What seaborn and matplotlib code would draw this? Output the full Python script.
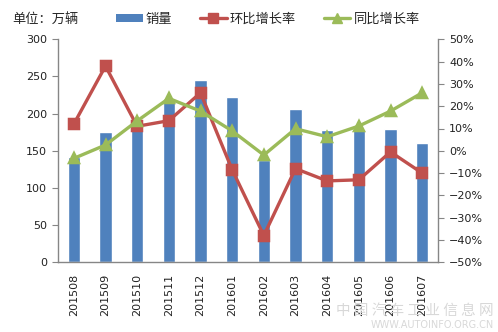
import numpy as np
import pandas as pd
import matplotlib
matplotlib.use("Agg")
import matplotlib.pyplot as plt
from matplotlib.patches import Patch
from matplotlib.lines import Line2D
from matplotlib.ticker import FixedLocator, PercentFormatter
import seaborn as sns

months = ["201508", "201509", "201510", "201511", "201512", "201601",
          "201602", "201603", "201604", "201605", "201606", "201607"]
sales = [142, 175, 192, 219, 245, 223, 138, 206, 178, 178, 179, 160]
mom = [12, 38, 11, 13.5, 26, -8.5, -38, -8, -13.5, -13, -0.5, -10]
yoy = [-3.4, 2.6, 13.4, 23.5, 17.8, 8.9, -1.9, 9.9, 6.3, 11.1, 17.8, 26]
legend_labels = ["销量", "环比增长率", "同比增长率"]
unit_label = "单位：万辆"

BLUE = "#4F81BD"
RED = "#C0504D"
GREEN = "#9BBB59"
SPINE = "#868686"

sns.set_style("white")
plt.rcParams["font.family"] = ["Noto Sans CJK SC", "DejaVu Sans"]
NUMFONT = ["DejaVu Sans", "Noto Sans CJK SC"]

df = pd.DataFrame({"month": months, "sales": sales, "mom": mom, "yoy": yoy})

fig = plt.figure(figsize=(4.98, 3.32), dpi=100)
ax = fig.add_axes([58 / 498, 1 - 262.3 / 332, 380 / 498, 223 / 332])

sns.barplot(data=df, x="month", y="sales", color=BLUE, width=0.38,
            saturation=1, ax=ax, order=months)
ax.set_ylim(0, 300)
ax.set_yticks(np.arange(0, 301, 50))
ax.set_xlim(-0.5, len(months) - 0.5)
ax.set_xlabel("")
ax.set_ylabel("")

ax2 = ax.twinx()
sns.pointplot(data=df, x="month", y="mom", color=RED, markers="s",
              markersize=7.5, linewidth=2.4, ax=ax2, order=months)
sns.pointplot(data=df, x="month", y="yoy", color=GREEN, markers="^",
              markersize=7.5, linewidth=2.4, ax=ax2, order=months)
ax2.set_ylim(-50, 50)
ax2.set_yticks(np.arange(-50, 51, 10))
ax2.yaxis.set_major_formatter(PercentFormatter(decimals=0))
ax2.set_xlim(-0.5, len(months) - 0.5)
ax2.set_xlabel("")
ax2.set_ylabel("")

# x ticks: labels at centers, tick marks at boundaries
ax.set_xticks(np.arange(len(months)))
ax.set_xticklabels(months, rotation=90, fontsize=8, color="#222222", family=NUMFONT)
ax.tick_params(axis="x", which="major", length=0, pad=8)
ax.xaxis.set_minor_locator(FixedLocator(np.arange(len(months) + 1) - 0.5))
ax.tick_params(axis="x", which="minor", length=4, color=SPINE, direction="out")
ax.tick_params(axis="y", length=4, color=SPINE, direction="out", labelsize=8,
               labelcolor="#222222", pad=4)
ax2.tick_params(axis="y", length=4, color=SPINE, direction="out", labelsize=8,
                labelcolor="#222222", pad=4)
for lab in ax.get_yticklabels() + ax2.get_yticklabels():
    lab.set_family(NUMFONT)

for a in (ax, ax2):
    for s in a.spines.values():
        s.set_visible(False)
ax.spines["left"].set_visible(True)
ax.spines["bottom"].set_visible(True)
ax2.spines["right"].set_visible(True)
for s in (ax.spines["left"], ax.spines["bottom"], ax2.spines["right"]):
    s.set_color(SPINE)
    s.set_linewidth(1.0)

handles = [
    Patch(facecolor=BLUE, edgecolor="none"),
    Line2D([], [], color=RED, marker="s", markersize=7.5, linewidth=2.4),
    Line2D([], [], color=GREEN, marker="^", markersize=7.5, linewidth=2.4),
]
fig.legend(handles, legend_labels, loc="center", bbox_to_anchor=(268 / 498, 1 - 19 / 332),
           ncol=3, frameon=False, fontsize=9.5, handlelength=2.0, handleheight=0.55,
           columnspacing=2.1, handletextpad=0.25)
fig.text(12 / 498, 1 - 19 / 332, unit_label, fontsize=9.5, va="center", ha="left")

fig.text(494 / 498, 1 - 311 / 332, "中 国 汽 车 工 业 信 息 网", fontsize=10.5,
         color="#d8d8d8", ha="right", va="center")
fig.text(494 / 498, 1 - 325 / 332, "WWW.AUTOINFO.ORG.CN", fontsize=7, color="#d8d8d8",
         ha="right", va="center", family=NUMFONT)

fig.savefig("out.png", dpi=100)
